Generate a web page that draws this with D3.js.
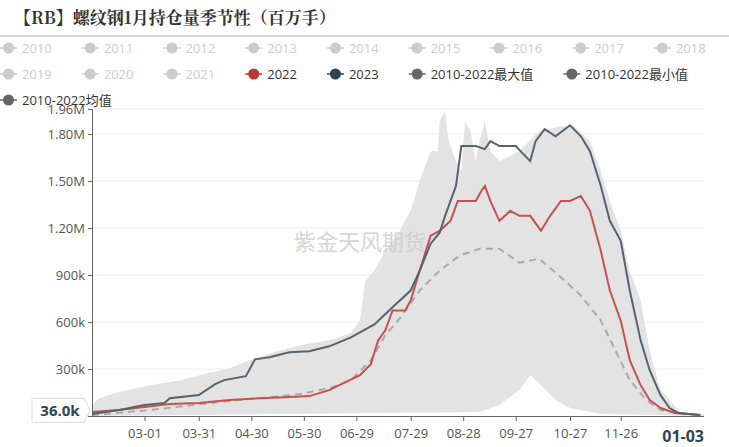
<!DOCTYPE html>
<html><head><meta charset="utf-8">
<script src="https://cdn.jsdelivr.net/npm/d3@7"></script>
<style>body{margin:0;background:#fff;font-family:"Noto Sans CJK SC","Noto Sans",sans-serif;}</style>
</head><body><svg id="c" width="729" height="447"></svg>
<script>
// day offsets (from 01-30) and values in thousands of lots
const s2023 = [[0,13],[15,38],[29,70],[40,83],[43,114],[59,134],[68,203],[73,229],[85,254],[90,362],[98,375],[109,407],[120,413],[131,445],[143,502],[156,585],[167,706],[176,801],[181,928],[187,1100],[192,1170],[195,1278],[201,1468],[204,1723],[212,1723],[217,1704],[220,1755],[225,1723],[234,1723],[242,1627],[245,1755],[250,1831],[256,1786],[264,1856],[270,1786],[275,1691],[281,1468],[286,1246],[292,1119],[297,801],[303,483],[308,292],[314,133],[319,51],[324,19],[336,6]];
const s2022 = [[0,25],[15,38],[29,57],[43,76],[59,83],[76,102],[93,114],[109,121],[120,127],[131,165],[140,216],[148,261],[154,331],[158,483],[162,547],[166,674],[173,674],[176,737],[181,928],[187,1151],[192,1182],[198,1246],[202,1373],[206,1373],[212,1373],[215,1437],[217,1469],[220,1373],[225,1246],[231,1310],[236,1278],[242,1278],[248,1183],[253,1278],[259,1373],[264,1373],[270,1405],[275,1310],[281,1055],[286,801],[292,610],[297,356],[303,197],[308,102],[314,51],[322,19],[336,6]];
const sMean = [[0,6],[32,38],[60,76],[87,108],[115,140],[131,178],[143,229],[154,356],[162,515],[170,623],[181,801],[192,928],[203,1024],[214,1068],[225,1068],[236,979],[247,1004],[258,896],[270,769],[281,610],[289,420],[297,229],[306,102],[314,38],[336,0]];
const sMax = [[0,70],[4,114],[15,153],[32,197],[49,229],[60,261],[76,305],[87,356],[104,420],[115,452],[131,483],[143,528],[148,610],[151,864],[156,928],[162,1055],[170,1182],[176,1310],[181,1500],[187,1691],[191,1691],[192,1882],[195,1945],[197,1755],[201,1627],[204,1564],[206,1882],[209,1818],[212,1627],[214,1755],[217,1882],[220,1691],[225,1627],[236,1691],[247,1818],[258,1850],[266,1850],[275,1755],[281,1564],[286,1373],[292,1182],[297,928],[303,737],[308,420],[314,165],[325,25],[338,6]];
const sMin = [[0,0],[214,25],[225,70],[236,165],[242,261],[248,197],[256,102],[264,51],[281,13],[338,0]];
const xTickDays = [29,59,88,117,146,176,205,234,264,292];
const xTickLabels = ["03-01","03-31","04-30","05-30","06-29","07-29","08-28","09-27","10-27","11-26"];
const yTicks = [0.01,300,600,900,1200,1500,1800,1960];
const yTickLabels = ["10.0","300k","600k","900k","1.20M","1.50M","1.80M","1.96M"];
const legendRows = [
  [["2010",0],["2011",0],["2012",0],["2013",0],["2014",0],["2015",0],["2016",0],["2017",0],["2018",0]],
  [["2019",0],["2020",0],["2021",0],["2022","#c23531"],["2023","#2f4554"],["2010-2022最大值","#666"],["2010-2022最小值","#666"]],
  [["2010-2022均值","#666"]]
];

const svg = d3.select("#c");
const x = d3.scaleLinear().domain([0,338]).range([92,704]);
const y = d3.scaleLinear().domain([0.01,1960]).range([416,109]);
const font = "'Open Sans','Noto Sans CJK SC',sans-serif";

svg.append("text").attr("x",14).attr("y",24).attr("font-size",17).attr("font-weight","bold")
  .attr("fill","#333").attr("font-family","'Noto Serif CJK SC','Noto Sans CJK SC',serif").text("【RB】螺纹钢1月持仓量季节性（百万手）");
svg.append("line").attr("x1",0).attr("x2",729).attr("y1",36).attr("y2",36).attr("stroke","#aaa");

// legend
const lg = svg.append("g").attr("font-size",13);
legendRows.forEach((row,ri)=>{
  let cx = 0;
  row.forEach(([name,col])=>{
    const c = col || "#ccc", yy = 48+ri*26;
    lg.append("line").attr("x1",cx).attr("x2",cx+17).attr("y1",yy).attr("y2",yy).attr("stroke",c).attr("stroke-width",1.5);
    lg.append("circle").attr("cx",cx+8.5).attr("cy",yy).attr("r",5.5).attr("fill",c);
    const t = lg.append("text").attr("x",cx+22).attr("y",yy+4.5).attr("fill",col?"#333":"#ccc").attr("font-family",font).text(name);
    cx += 22 + t.node().getComputedTextLength() + 30;
  });
});

// grid
svg.append("g").selectAll("line").data(yTicks).join("line")
  .attr("x1",92).attr("x2",704).attr("y1",d=>y(d)).attr("y2",d=>y(d)).attr("stroke","#eee");

const area = d3.area().x(d=>x(d[0])).y1(d=>y(d[1]));
svg.append("path").datum(sMax).attr("d",area.y0(y(0.01))).attr("fill","#e3e3e3");
svg.append("path").datum(sMin).attr("d",area.y0(y(0.01))).attr("fill","#fff");

svg.append("text").attr("x",360).attr("y",250).attr("text-anchor","middle").attr("font-size",22)
  .attr("fill","#ccc").attr("opacity",0.8).text("紫金天风期货");

const line = d3.line().x(d=>x(d[0])).y(d=>y(d[1]));
svg.append("path").datum(sMean).attr("d",line).attr("fill","none").attr("stroke","#aaa").attr("stroke-width",2).attr("stroke-dasharray","7,5");
svg.append("path").datum(s2022).attr("d",line).attr("fill","none").attr("stroke","#c9504c").attr("stroke-width",2);
svg.append("path").datum(s2023).attr("d",line).attr("fill","none").attr("stroke","#56636f").attr("stroke-width",2);

// axes
const ya = svg.append("g").attr("transform","translate(92,0)")
  .call(d3.axisLeft(y).tickValues(yTicks).tickFormat((d,i)=>yTickLabels[i]).tickSize(4));
ya.select(".domain").attr("stroke","#666");
ya.selectAll("line").attr("stroke","#666");
ya.selectAll("text").attr("font-size",13).attr("fill","#555").attr("font-family",font);
svg.append("line").attr("x1",92).attr("x2",704).attr("y1",416.5).attr("y2",416.5).attr("stroke","#666");
const xa = svg.append("g").attr("transform","translate(0,417)")
  .call(d3.axisBottom(x).tickValues(xTickDays).tickFormat((d,i)=>xTickLabels[i]).tickSize(4));
xa.select(".domain").remove();
xa.selectAll("line").attr("stroke","#666");
xa.selectAll("text").attr("font-size",13).attr("fill","#555").attr("dy","1.1em").attr("font-family",font);
svg.append("text").attr("x",704).attr("y",442).attr("text-anchor","end").attr("font-size",16).attr("font-weight","bold")
  .attr("fill","#2f4554").attr("font-family",font).text("01-03");

// axis pointer label
const py = y(36);
svg.append("path").attr("d",`M32,${py-12}H84L90,${py}L84,${py+12}H32Z`).attr("fill","#fff").attr("stroke","#ddd");
svg.append("text").attr("x",60).attr("y",py+6).attr("text-anchor","middle").attr("font-size",15).attr("font-weight","bold")
  .attr("fill","#2f4554").attr("font-family",font).text("36.0k");
</script></body></html>
